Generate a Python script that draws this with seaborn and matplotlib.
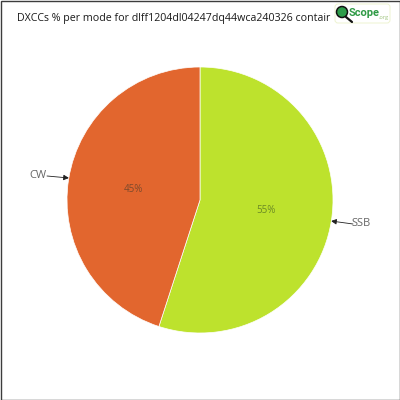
import matplotlib
matplotlib.use("Agg")
import matplotlib.pyplot as plt
from matplotlib.patches import Circle, FancyBboxPatch, Rectangle
import seaborn as sns

categories = ["SSB", "CW"]
values = [55, 45]
colors = ["#bde22d", "#e2662e"]
title = "DXCCs % per mode for dlff1204dl04247dq44wca240326 contair"

sns.set_theme(style="white")
plt.rcParams["font.family"] = ["Open Sans", "DejaVu Sans"]
palette = sns.color_palette(colors)

fig = plt.figure(figsize=(4, 4), dpi=100, facecolor="white")
ax = fig.add_axes([0, 0, 1, 1])
ax.set_xlim(0, 400)
ax.set_ylim(400, 0)
ax.axis("off")
ax.add_patch(Rectangle((0.5, 0.5), 399, 399, fill=False, ec="#3c3c3c", lw=1, clip_on=False))

pie_ax = fig.add_axes([67/400, 67/400, 266/400, 266/400])
wedges, _ = pie_ax.pie(values, colors=palette, startangle=90, counterclock=False,
                       radius=1, wedgeprops=dict(ec="white", lw=0.5))
pie_ax.set_xlim(-1, 1)
pie_ax.set_ylim(-1, 1)
pie_ax.text(0.495, -0.08, f"{values[0]}%", ha="center", va="center", fontsize=7, color="#6b8a25")
pie_ax.text(-0.50, 0.08, f"{values[1]}%", ha="center", va="center", fontsize=7, color="#7d4a2c")

ttl = ax.text(17, 18, title, ha="left", va="center", fontsize=9, color="#1a1a1a")
fig.canvas.draw()
ttl.set_fontsize(9 * 316 / ttl.get_window_extent().width)

ax.text(371, 223, categories[0], ha="right", va="center", fontsize=8, color="#666666")
ax.text(46, 176, categories[1], ha="right", va="center", fontsize=8, color="#666666")
ax.annotate("", xy=(331, 221), xytext=(353, 224),
            arrowprops=dict(arrowstyle="-|>", color="#222222", lw=0.6, shrinkA=0, shrinkB=0, mutation_scale=8))
ax.annotate("", xy=(69, 178), xytext=(47, 176),
            arrowprops=dict(arrowstyle="-|>", color="#222222", lw=0.6, shrinkA=0, shrinkB=0, mutation_scale=8))

# logo
ax.add_patch(FancyBboxPatch((335, 4), 55, 19, boxstyle="round,pad=0,rounding_size=3",
                            fc="white", ec="#eef3d0", lw=0.7, zorder=3))
ax.plot([346, 352], [17, 22], color="#111111", lw=1.6, zorder=4)
ax.add_patch(Circle((342, 12), 5.5, fc="#2d9c4a", ec="#111111", lw=1.1, zorder=5))
ax.text(349, 13, "Scope", ha="left", va="center", fontsize=8, fontweight="bold",
        family="Roboto", color="#2f9a45", zorder=5)
ax.text(379, 17.5, ".org", ha="left", va="center", fontsize=4, color="#9cc27a", zorder=5)

fig.savefig("out.png", dpi=100, facecolor="white")
